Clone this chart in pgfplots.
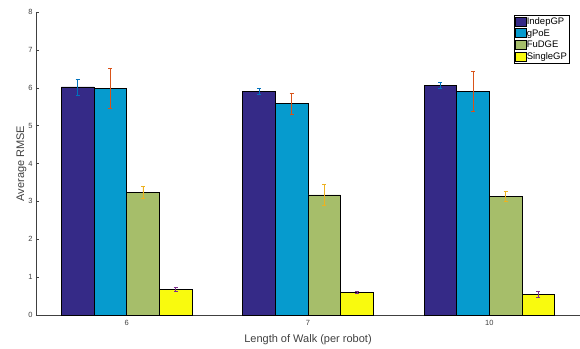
\documentclass[border=0pt]{standalone}
\usepackage{pgfplots}
\pgfplotsset{compat=1.18}
\usepackage{fontspec}
\setmainfont{Liberation Sans}
\definecolor{cA}{RGB}{53,42,135}
\definecolor{cB}{RGB}{6,155,206}
\definecolor{cC}{RGB}{166,190,106}
\definecolor{cD}{RGB}{249,250,14}
\definecolor{eA}{rgb}{0,0.447,0.741}
\definecolor{eB}{rgb}{0.85,0.325,0.098}
\definecolor{eC}{rgb}{0.929,0.694,0.125}
\definecolor{eD}{rgb}{0.494,0.184,0.556}
\definecolor{axg}{gray}{0.25}
\begin{document}
\begin{tikzpicture}
\path[use as bounding box] (-36pt,-33pt) rectangle (544pt,315pt);
\begin{axis}[
  at={(0,0)}, anchor=origin,
  scale only axis, width=544pt, height=303pt,
  ybar=0pt, bar width=0.18,
  xmin=0.5, xmax=3.5, ymin=0, ymax=8,
  xtick={1,2,3}, xticklabels={6,7,10},
  ytick={0,1,...,8},
  axis x line*=bottom, axis y line*=left,
  axis line style={axg, line width=0.5pt, -},
  tick style={axg, line width=0.5pt},
  major tick length=3pt,
  tick align=inside,
  ticklabel style={font=\fontsize{7.5}{8}\selectfont, text=axg},
  xticklabel style={yshift=-1.5pt},
  /pgf/number format/assume math mode=true,
  xlabel={Length of Walk (per robot)},
  ylabel={Average RMSE},
  label style={font=\fontsize{11}{12}\selectfont, text=axg},
  xlabel style={yshift=-2pt},
  ylabel style={yshift=-5pt},
  legend style={at={(0.981,0.99)}, anchor=north east, draw=black, line width=0.5pt,
    font=\fontsize{9.5}{10}\selectfont, inner sep=0.5pt, row sep=-0.5pt,
    legend cell align=left, /tikz/every odd column/.append style={column sep=-2pt}},
  legend image code/.code={\draw[#1, draw=black, line width=0.6pt] (0pt,-4pt) rectangle (11pt,5pt);},
  every axis plot/.append style={draw=black, line width=0.6pt},
]
\addplot[fill=cA, error bars/.cd, y dir=both, y explicit,
  error bar style={eA, line width=0.6pt}, error mark options={eA, rotate=90, mark size=2pt, line width=0.6pt}]
  coordinates {(1,6.02) +- (0,0.21) (2,5.91) +- (0,0.08) (3,6.06) +- (0,0.075)};
\addplot[fill=cB, error bars/.cd, y dir=both, y explicit,
  error bar style={eB, line width=0.6pt}, error mark options={eB, rotate=90, mark size=2pt, line width=0.6pt}]
  coordinates {(1,5.98) +- (0,0.53) (2,5.58) +- (0,0.28) (3,5.90) +- (0,0.53)};
\addplot[fill=cC, error bars/.cd, y dir=both, y explicit,
  error bar style={eC, line width=0.6pt}, error mark options={eC, rotate=90, mark size=2pt, line width=0.6pt}]
  coordinates {(1,3.23) +- (0,0.155) (2,3.17) +- (0,0.27) (3,3.13) +- (0,0.125)};
\addplot[fill=cD, error bars/.cd, y dir=both, y explicit,
  error bar style={eD, line width=0.6pt}, error mark options={eD, rotate=90, mark size=2pt, line width=0.6pt}]
  coordinates {(1,0.68) +- (0,0.06) (2,0.60) +- (0,0.035) (3,0.55) +- (0,0.07)};
\legend{IndepGP,gPoE,FuDGE,SingleGP}
\end{axis}
\end{tikzpicture}
\end{document}
